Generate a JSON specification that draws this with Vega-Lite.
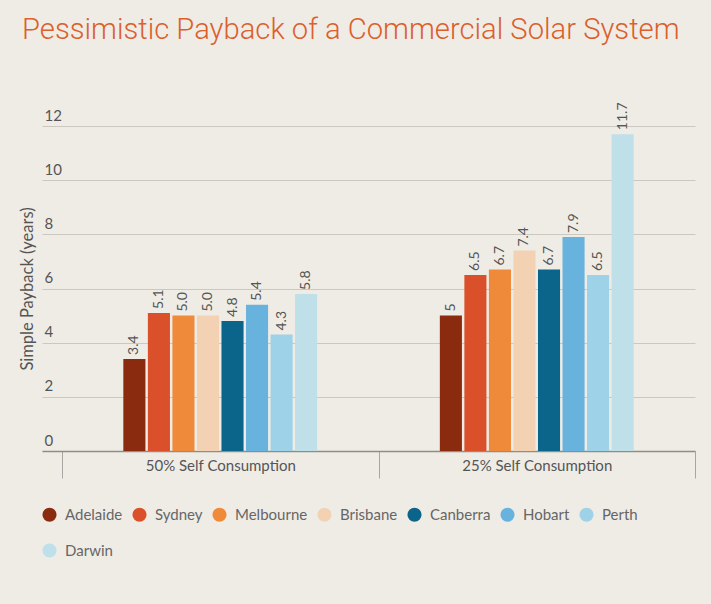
{
  "$schema": "https://vega.github.io/schema/vega-lite/v6.json",
  "width": 653,
  "height": 325,
  "autosize": {"type": "none"},
  "padding": {"left": 42, "top": 126, "right": 16, "bottom": 153},
  "background": "#efece6",
  "title": {
    "text": "Pessimistic Payback of a Commercial Solar System",
    "anchor": "start",
    "frame": "group",
    "dx": -20,
    "offset": 57,
    "font": "Roboto",
    "fontSize": 29.2,
    "fontWeight": 300,
    "color": "#dc5f2c"
  },
  "config": {
    "view": {"stroke": null},
    "font": "Lato",
    "axis": {"labelFont": "Lato", "titleFont": "Lato"},
    "legend": {"labelFont": "Lato"}
  },
  "data": {
    "values": [
      {"group": "50% Self Consumption", "city": "Adelaide", "value": 3.4, "label": "3.4"},
      {"group": "50% Self Consumption", "city": "Sydney", "value": 5.1, "label": "5.1"},
      {"group": "50% Self Consumption", "city": "Melbourne", "value": 5.0, "label": "5.0"},
      {"group": "50% Self Consumption", "city": "Brisbane", "value": 5.0, "label": "5.0"},
      {"group": "50% Self Consumption", "city": "Canberra", "value": 4.8, "label": "4.8"},
      {"group": "50% Self Consumption", "city": "Hobart", "value": 5.4, "label": "5.4"},
      {"group": "50% Self Consumption", "city": "Perth", "value": 4.3, "label": "4.3"},
      {"group": "50% Self Consumption", "city": "Darwin", "value": 5.8, "label": "5.8"},
      {"group": "25% Self Consumption", "city": "Adelaide", "value": 5, "label": "5"},
      {"group": "25% Self Consumption", "city": "Sydney", "value": 6.5, "label": "6.5"},
      {"group": "25% Self Consumption", "city": "Melbourne", "value": 6.7, "label": "6.7"},
      {"group": "25% Self Consumption", "city": "Brisbane", "value": 7.4, "label": "7.4"},
      {"group": "25% Self Consumption", "city": "Canberra", "value": 6.7, "label": "6.7"},
      {"group": "25% Self Consumption", "city": "Hobart", "value": 7.9, "label": "7.9"},
      {"group": "25% Self Consumption", "city": "Perth", "value": 6.5, "label": "6.5"},
      {"group": "25% Self Consumption", "city": "Darwin", "value": 11.7, "label": "11.7"}
    ]
  },
  "encoding": {
    "x": {
      "field": "group",
      "type": "nominal",
      "sort": ["50% Self Consumption", "25% Self Consumption"],
      "scale": {"paddingInner": 0, "paddingOuter": 0.0316, "align": 1},
      "axis": {
        "title": null,
        "labelAngle": 0,
        "tickBand": "extent",
        "tickSize": 27,
        "tickColor": "#a8a6a2",
        "domainColor": "#8f8d89",
        "domainWidth": 1.5,
        "labelPadding": -20,
        "labelFontSize": 15,
        "labelColor": "#555555"
      }
    },
    "xOffset": {
      "field": "city",
      "type": "nominal",
      "scale": {
        "domain": ["pad1", "pad2", "Adelaide", "Sydney", "Melbourne", "Brisbane", "Canberra", "Hobart", "Perth", "Darwin", "pad3", "pad4"],
        "paddingInner": 0.1,
        "paddingOuter": 0.5
      }
    },
    "y": {
      "field": "value",
      "type": "quantitative",
      "scale": {"domain": [0, 12], "nice": false},
      "axis": {
        "title": "Simple Payback (years)",
        "titleFontSize": 16.5,
        "titleFontWeight": "normal",
        "titleColor": "#555555",
        "titlePadding": 7,
        "values": [0, 2, 4, 6, 8, 10, 12],
        "labelAlign": "left",
        "labelBaseline": "bottom",
        "labelPadding": -2,
        "labelOffset": -3,
        "labelFontSize": 15,
        "labelColor": "#555555",
        "ticks": false,
        "domain": false,
        "gridColor": "#cbc8c2",
        "gridWidth": 1
      }
    }
  },
  "layer": [
    {
      "mark": {"type": "bar"},
      "encoding": {
        "color": {
          "field": "city",
          "type": "nominal",
          "sort": ["Adelaide", "Sydney", "Melbourne", "Brisbane", "Canberra", "Hobart", "Perth", "Darwin"],
          "scale": {
            "domain": ["Adelaide", "Sydney", "Melbourne", "Brisbane", "Canberra", "Hobart", "Perth", "Darwin"],
            "range": ["#8a2a0e", "#d9502a", "#ef8a3a", "#f3d2b3", "#0b6489", "#68b3dd", "#9dd2e8", "#bfdfe9"]
          },
          "legend": {
            "title": null,
            "orient": "bottom",
            "direction": "horizontal",
            "columns": 7,
            "symbolType": "circle",
            "symbolSize": 200,
            "symbolStrokeWidth": 0,
            "labelFontSize": 15,
            "labelColor": "#666666",
            "labelOffset": 8,
            "columnPadding": 9,
            "rowPadding": 20,
            "offset": 28
          }
        }
      }
    },
    {
      "mark": {"type": "text", "angle": -90, "align": "left", "baseline": "middle", "dx": 4, "fontSize": 14, "color": "#555555"},
      "encoding": {
        "text": {"field": "label"}
      }
    }
  ]
}
